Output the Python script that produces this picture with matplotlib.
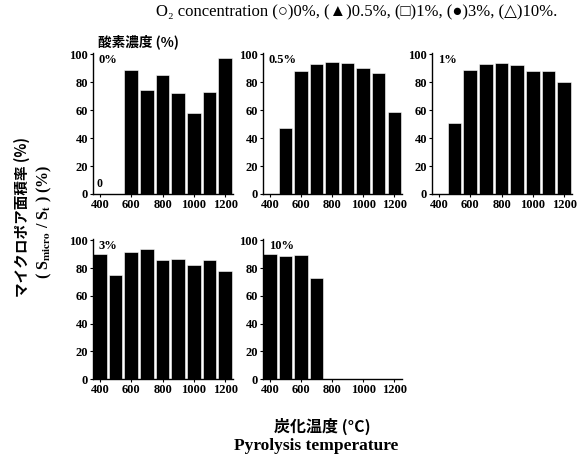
import numpy as np
import matplotlib
matplotlib.use("Agg")
import matplotlib.pyplot as plt

plt.rcParams["mathtext.fontset"] = "stix"

temps = [400, 500, 600, 700, 800, 900, 1000, 1100, 1200]
tick_temps = [400, 600, 800, 1000, 1200]
nan = np.nan

# micropore area ratio (%) by O2 concentration
o2_0 = [0, nan, 88.7, 74.3, 85.0, 72.2, 58.2, 73.4, 97.5]
o2_05 = [nan, 47.6, 87.8, 93.0, 94.2, 93.5, 90.6, 86.9, 58.7]
o2_1 = [nan, 51.0, 88.5, 93.4, 93.9, 92.5, 87.8, 87.8, 80.2]
o2_3 = [90.0, 74.8, 91.9, 93.8, 85.5, 86.7, 81.9, 86.0, 78.0]
o2_10 = [90.0, 88.6, 89.3, 73.2, nan, nan, nan, nan, nan]

panel_labels = ["0%", "0.5%", "1%", "3%", "10%"]
series = [o2_0, o2_05, o2_1, o2_3, o2_10]

serif = ["Liberation Serif", "DejaVu Serif", "DejaVu Sans"]
jp = ["Noto Sans CJK JP", "DejaVu Sans"]

W, H = 584, 455
fig = plt.figure(figsize=(W / 100, H / 100), dpi=100)

# panel boxes in pixels: left, top (y=100), right, bottom (y=0)
boxes = [
    (93, 53, 233, 194),
    (263, 53, 402, 194),
    (432, 53, 572, 194),
    (93, 239, 233, 379),
    (263, 239, 402, 379),
]

for (l, t, r, b), vals, lab in zip(boxes, series, panel_labels):
    ax = fig.add_axes([l / W, 1 - b / H, (r - l) / W, (b - t) / H])
    ax.bar(temps, vals, width=86, color="black", edgecolor="white", linewidth=0.4)
    ax.set_xlim(356, 1250)
    ax.set_ylim(0, 101)
    ax.set_xticks(tick_temps)
    ax.set_yticks(range(0, 101, 20))
    for side in ["top", "right"]:
        ax.spines[side].set_visible(False)
    for side in ["left", "bottom"]:
        ax.spines[side].set_linewidth(1.0)
    ax.tick_params(length=2, width=0.8, pad=1.5)
    for tl in ax.get_xticklabels() + ax.get_yticklabels():
        tl.set_family(serif)
        tl.set_fontweight("bold")
        tl.set_fontsize(9)
    ax.text(0.04, 0.995, lab, transform=ax.transAxes, ha="left", va="top",
            family=serif, fontweight="bold", fontsize=9)
    if vals is o2_0:
        ax.text(temps[0], vals[0] + 3, "0", ha="center", va="bottom",
                family=serif, fontweight="bold", fontsize=8.5)

fig.text(98 / W, 1 - 42 / H, "酸素濃度 (%)", family=jp, fontweight="bold",
         fontsize=9.8, ha="left", va="center")

fig.text(357 / W, 1 - 12 / H,
         "O₂ concentration (○)0%, (▲)0.5%, (□)1%, (●)3%, (△)10%.",
         family=serif, fontsize=12, ha="center", va="center")

fig.text(22 / W, 1 - 217 / H, "マイクロポア面積率 (%)", family=jp,
         fontweight="bold", fontsize=10.5, rotation=90, ha="center", va="center")
fig.text(44 / W, 1 - 222 / H, r"( S$_{\mathbf{micro}}$ / S$_{\mathbf{t}}$ ) (%)",
         family=serif, fontweight="bold", fontsize=11.5, rotation=90,
         ha="center", va="center")

fig.text(322 / W, 1 - 426 / H, "炭化温度 (°C)", family=jp, fontweight="bold",
         fontsize=11.5, ha="center", va="center")
fig.text(316 / W, 1 - 446 / H, "Pyrolysis temperature", family=serif,
         fontweight="bold", fontsize=12.5, ha="center", va="center")

fig.savefig("out.png", dpi=100, facecolor="white")
